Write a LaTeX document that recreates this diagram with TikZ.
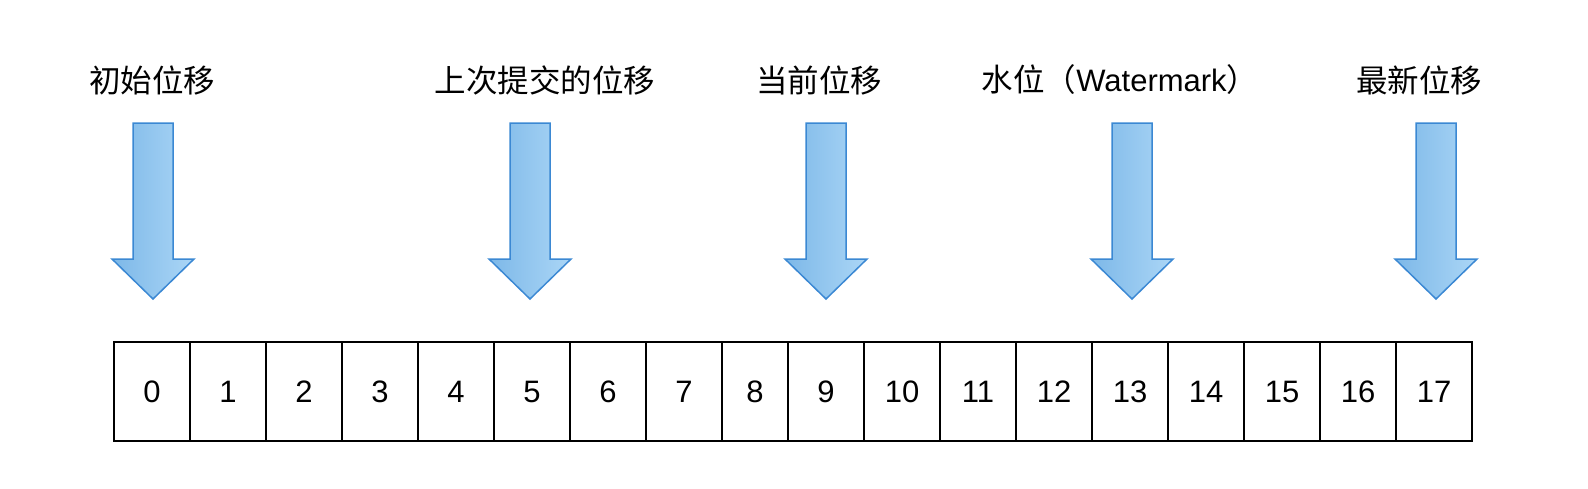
\documentclass[tikz,border=0pt]{standalone}
\usepackage{fontspec}
\setmainfont{Liberation Sans}
\newfontfamily\cjk{Noto Sans CJK SC}
\definecolor{arrowL}{HTML}{7DB8E8}
\definecolor{arrowR}{HTML}{ABD6F6}
\definecolor{arrowB}{HTML}{3B88D3}
\begin{document}
\begin{tikzpicture}[x=1pt,y=-1pt,
  cell/.style={draw=black, line width=1.5pt, minimum height=99pt, inner sep=0pt, font=\fontsize{31}{31}\selectfont},
  lbl/.style={font=\cjk\fontsize{31.5}{32}\selectfont, inner sep=0pt},
  bigarrow/.style={left color=arrowL, right color=arrowR, draw=arrowB, line width=1.5pt, line join=miter}]
\useasboundingbox (0,0) rectangle (1588,488);
\foreach \i in {0,...,17}{
  \pgfmathsetmacro\xl{\i<8 ? 114+76*\i : (\i==8 ? 722 : 788+76*(\i-9))}
  \pgfmathsetmacro\w{\i==8 ? 66 : 76}
  \node[cell, minimum width=\w pt] (c\i) at (\xl+\w/2, 391.5) {\i};
}
\foreach \cx in {153, 530, 826, 1132, 1436}{
  \shadedraw[bigarrow] (\cx-20,123) -- (\cx+20,123) -- (\cx+20,259) -- (\cx+41,259) -- (\cx,299) -- (\cx-41,259) -- (\cx-20,259) -- cycle;
}
\node[lbl] (l1) at (152,80) {初始位移};
\node[lbl] (l2) at (545,80) {上次提交的位移};
\node[lbl] (l3) at (819,80) {当前位移};
\node[lbl] (l4) at (1120,80) {水位（{\rmfamily\fontsize{31}{32}\selectfont Watermark}）};
\node[lbl] (l5) at (1419,80) {最新位移};
\end{tikzpicture}
\end{document}
